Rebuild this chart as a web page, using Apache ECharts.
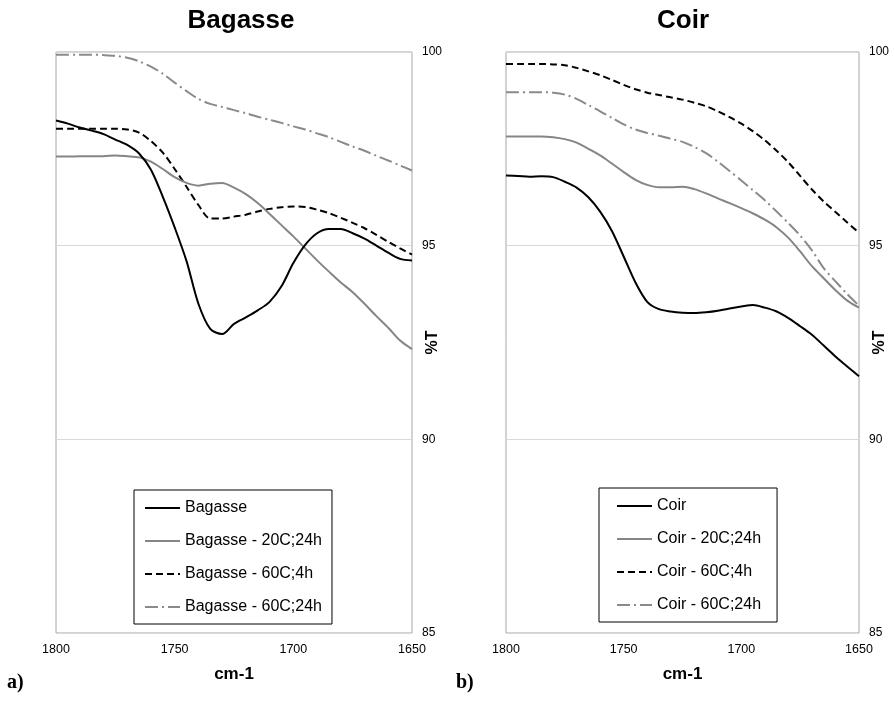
<!DOCTYPE html>
<html>
<head>
<meta charset="utf-8">
<script src="https://cdn.jsdelivr.net/npm/echarts@6/dist/echarts.min.js"></script>
<style>
  html, body { margin: 0; padding: 0; background: #fff; }
  #chart { width: 894px; height: 707px; }
</style>
</head>
<body>
<div id="chart"></div>
<script>
// Wavenumber grid (cm-1), shared by every spectrum
const wavenumbers = [1800,1795,1790,1785,1780,1775,1770,1765,1760,1755,1750,1745,1740,1735,1730,1725,1720,1715,1710,1705,1700,1695,1690,1685,1680,1675,1670,1665,1660,1655,1650];

// Bagasse transmittance (%T)
const bagasseRaw   = [98.23,98.15,98.05,97.97,97.88,97.74,97.60,97.38,96.96,96.26,95.47,94.60,93.50,92.85,92.72,92.98,93.15,93.33,93.55,93.95,94.55,95.02,95.32,95.43,95.43,95.32,95.18,95.00,94.82,94.66,94.62];
const bagasse20C24 = [97.30,97.30,97.31,97.31,97.31,97.33,97.31,97.28,97.17,96.98,96.77,96.62,96.55,96.60,96.62,96.50,96.33,96.10,95.82,95.53,95.24,94.93,94.62,94.33,94.05,93.80,93.50,93.18,92.88,92.55,92.33];
const bagasse60C4  = [98.02,98.02,98.02,98.02,98.02,98.02,98.00,97.92,97.70,97.40,96.98,96.52,96.05,95.70,95.70,95.75,95.80,95.88,95.95,95.99,96.01,96.00,95.93,95.84,95.72,95.59,95.45,95.28,95.10,94.93,94.77];
const bagasse60C24 = [99.93,99.93,99.93,99.93,99.92,99.90,99.85,99.76,99.62,99.44,99.21,98.99,98.79,98.66,98.58,98.50,98.42,98.33,98.25,98.17,98.08,98.00,97.90,97.80,97.68,97.56,97.45,97.32,97.20,97.07,96.94];

// Coir transmittance (%T)
const coirRaw   = [96.81,96.80,96.78,96.79,96.77,96.65,96.50,96.25,95.88,95.38,94.72,94.05,93.55,93.36,93.30,93.27,93.26,93.28,93.32,93.38,93.43,93.47,93.40,93.30,93.13,92.92,92.70,92.42,92.14,91.88,91.63];
const coir20C24 = [97.82,97.82,97.82,97.82,97.80,97.75,97.66,97.50,97.33,97.12,96.90,96.70,96.57,96.51,96.51,96.52,96.46,96.35,96.22,96.10,95.97,95.83,95.67,95.47,95.20,94.85,94.47,94.16,93.85,93.58,93.40];
const coir60C4  = [99.69,99.69,99.69,99.69,99.68,99.66,99.59,99.50,99.40,99.28,99.15,99.04,98.95,98.89,98.83,98.77,98.69,98.60,98.47,98.32,98.15,97.95,97.72,97.45,97.15,96.80,96.45,96.14,95.87,95.60,95.33];
const coir60C24 = [98.96,98.96,98.96,98.96,98.95,98.90,98.79,98.63,98.47,98.30,98.13,98.00,97.91,97.84,97.76,97.68,97.55,97.39,97.17,96.93,96.68,96.43,96.17,95.88,95.58,95.26,94.88,94.42,94.08,93.75,93.45];

// Axis ranges and ticks
const xRange = [1650, 1800];
const xStep = 50;
const yRange = [85, 100];
const yStep = 5;

const panelTitles = ['Bagasse', 'Coir'];
const panelLetters = ['a)', 'b)'];
const seriesNames = [
  ['Bagasse', 'Bagasse - 20C;24h', 'Bagasse - 60C;4h', 'Bagasse - 60C;24h'],
  ['Coir', 'Coir - 20C;24h', 'Coir - 60C;4h', 'Coir - 60C;24h']
];
const seriesValues = [
  [bagasseRaw, bagasse20C24, bagasse60C4, bagasse60C24],
  [coirRaw, coir20C24, coir60C4, coir60C24]
];

// line looks for: untreated, 20C;24h, 60C;4h, 60C;24h
const looks = [
  { color: '#000000', type: 'solid' },
  { color: '#858585', type: 'solid' },
  { color: '#000000', type: [7, 4] },
  { color: '#8a8a8a', type: [13, 4, 2, 4] }
];

const FONT = 'Arial, "Liberation Sans", sans-serif';

const grids = [
  { left: 56, right: 482, top: 52, bottom: 74 },
  { left: 506, right: 35, top: 52, bottom: 74 }
].map(g => Object.assign({
  show: true, borderColor: '#a6a6a6', borderWidth: 1, backgroundColor: '#fff',
  containLabel: false, outerBoundsMode: 'none'
}, g));

const xAxes = [0, 1].map(i => ({
  type: 'value', gridIndex: i, inverse: true,
  min: xRange[0], max: xRange[1], interval: xStep,
  name: 'cm-1', nameLocation: 'middle', nameGap: 33, nameMoveOverlap: false,
  nameTextStyle: { fontFamily: FONT, fontSize: 17, fontWeight: 'bold', color: '#000' },
  axisLine: { show: false }, axisTick: { show: false },
  axisLabel: { fontFamily: FONT, fontSize: 12.5, color: '#000', margin: 10, formatter: v => String(v) },
  splitLine: { show: false }
}));

const yAxes = [0, 1].map(i => ({
  type: 'value', gridIndex: i, position: 'right',
  min: yRange[0], max: yRange[1], interval: yStep,
  name: '%T', nameLocation: 'middle', nameGap: 13, nameRotate: 90, nameMoveOverlap: false,
  nameTextStyle: { fontFamily: FONT, fontSize: 16, fontWeight: 'bold', color: '#000' },
  axisLine: { show: false }, axisTick: { show: false },
  axisLabel: { fontFamily: FONT, fontSize: 12, color: '#000', margin: 10 },
  splitLine: { show: true, lineStyle: { color: '#d9d9d9', width: 1 } }
}));

const series = [];
seriesValues.forEach((group, gi) => {
  group.forEach((vals, si) => {
    series.push({
      name: seriesNames[gi][si],
      type: 'line',
      xAxisIndex: gi, yAxisIndex: gi,
      data: wavenumbers.map((w, k) => [w, vals[k]]),
      showSymbol: false, symbol: 'none',
      smooth: 0.3,
      lineStyle: { color: looks[si].color, width: 2, type: looks[si].type },
      itemStyle: { color: looks[si].color },
      z: 10 - si
    });
  });
});

const legends = [
  { left: 134, top: 490, data: seriesNames[0], padding: [10, 10, 9, 10] },
  { left: 599, top: 488, data: seriesNames[1], padding: [10, 16, 9, 17] }
].map(l => Object.assign({
  orient: 'vertical', itemGap: 17, itemWidth: 35, itemHeight: 14,
  backgroundColor: '#fff', borderColor: '#000', borderWidth: 1,
  itemStyle: { opacity: 0 },
  textStyle: { fontFamily: FONT, fontSize: 16, color: '#000' }
}, l));

const chart = echarts.init(document.getElementById('chart'), null, { renderer: 'canvas' });
chart.setOption({
  backgroundColor: '#fff',
  animation: false,
  title: [
    { text: panelTitles[0], left: 241, top: 8, textAlign: 'center', padding: 0,
      textStyle: { fontFamily: FONT, fontSize: 26, fontWeight: 'bold', color: '#000' } },
    { text: panelTitles[1], left: 683, top: 8, textAlign: 'center', padding: 0,
      textStyle: { fontFamily: FONT, fontSize: 26, fontWeight: 'bold', color: '#000' } }
  ],
  grid: grids,
  xAxis: xAxes,
  yAxis: yAxes,
  legend: legends,
  series: series,
  graphic: [
    { type: 'text', left: 7, top: 673,
      style: { text: panelLetters[0], font: 'bold 20px "Liberation Serif", "DejaVu Serif", serif', fill: '#000' } },
    { type: 'text', left: 456, top: 673,
      style: { text: panelLetters[1], font: 'bold 20px "Liberation Serif", "DejaVu Serif", serif', fill: '#000' } }
  ]
});
</script>
</body>
</html>
